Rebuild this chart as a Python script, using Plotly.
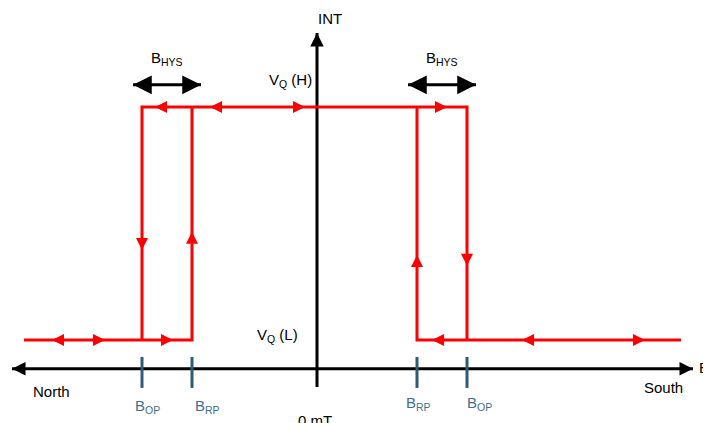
import plotly.graph_objects as go

# campo magnético (mT) dos pontos de comutação
B_OP_N, B_RP_N = -35, -25
B_RP_S, B_OP_S = 20, 30
B_START, B_END = -58.6, 72.8      # extremos da curva vermelha
V_LOW, V_HIGH = 0, 1              # níveis de saída

# eixos do diagrama
AXIS_Y = -0.124
AXIS_X_MIN, AXIS_X_MAX = -61, 75.2
INT_MIN, INT_MAX = -0.202, 1.318
TICK_LO, TICK_HI = -0.206, -0.073
HYS_Y = 1.095
HYS_PAD = 1.8

# setas sobre a curva (posição da ponta, direção)
arrows_high_x = [-32.4, -21.4, -2.4, 26]
arrows_high_dir = [-1, -1, 1, 1]
arrows_low_x = [-53, -42.4, -28.8, 23, 41, 65.6]
arrows_low_dir = [-1, 1, 1, -1, -1, 1]
arrows_vert_x = [B_OP_N, B_RP_N, B_RP_S, B_OP_S]
arrows_vert_y = [0.386, 0.464, 0.365, 0.318]
arrows_vert_dir = [-1, 1, 1, -1]

RED = "#ff0000"
TEAL = "#2e5c75"
TEAL_TXT = "#3f6f8b"
FONT = "Liberation Sans, Arial, sans-serif"

fig = go.Figure()

def line(xs, ys, color, width=3):
    fig.add_trace(go.Scatter(x=xs, y=ys, mode="lines", hoverinfo="skip",
                             line=dict(color=color, width=width)))

# eixos
line([AXIS_X_MIN, AXIS_X_MAX], [AXIS_Y, AXIS_Y], "black")
line([0, 0], [INT_MIN, INT_MAX], "black")

# marcas de B_OP / B_RP
for b in [B_OP_N, B_RP_N, B_RP_S, B_OP_S]:
    line([b, b], [TICK_LO, TICK_HI], TEAL)

# curva de histerese
line([B_START, B_RP_N, B_RP_N], [V_LOW, V_LOW, V_HIGH], RED)
line([B_OP_N, B_OP_N, B_OP_S, B_OP_S], [V_LOW, V_HIGH, V_HIGH, V_LOW], RED)
line([B_RP_S, B_RP_S, B_END], [V_HIGH, V_LOW, V_LOW], RED)

# B_HYS
line([B_OP_N - HYS_PAD, B_RP_N + HYS_PAD], [HYS_Y, HYS_Y], "black")
line([B_RP_S - HYS_PAD, B_OP_S + HYS_PAD], [HYS_Y, HYS_Y], "black")


def head(x, y, dx, dy, color, size):
    fig.add_annotation(x=x, y=y, ax=x - dx, ay=y - dy, axref="x", ayref="y",
                       xref="x", yref="y", text="", showarrow=True,
                       arrowhead=2, arrowwidth=3, arrowsize=size,
                       arrowcolor=color, standoff=0, borderpad=0)


for x, d in zip(arrows_high_x, arrows_high_dir):
    head(x, V_HIGH, 2 * d, 0, RED, 0.8)
for x, d in zip(arrows_low_x, arrows_low_dir):
    head(x, V_LOW, 2 * d, 0, RED, 0.8)
for x, y, d in zip(arrows_vert_x, arrows_vert_y, arrows_vert_dir):
    head(x, y, 0, 0.043 * d, RED, 0.8)

head(AXIS_X_MIN, AXIS_Y, -2, 0, "black", 0.9)
head(AXIS_X_MAX, AXIS_Y, 2, 0, "black", 0.9)
head(0, INT_MAX, 0, 0.043, "black", 0.9)

for a, b in [(B_OP_N - HYS_PAD, B_RP_N + HYS_PAD), (B_RP_S - HYS_PAD, B_OP_S + HYS_PAD)]:
    head(a, HYS_Y, -2, 0, "black", 1.25)
    head(b, HYS_Y, 2, 0, "black", 1.25)


def label(x, y, txt, color="black", xanchor="center", yanchor="middle", size=15):
    fig.add_annotation(x=x, y=y, xref="x", yref="y", text=txt, showarrow=False,
                       xanchor=xanchor, yanchor=yanchor,
                       font=dict(family=FONT, size=size, color=color))


label(2.6, 1.382, "INT")
label(-0.6, 1.112, "V<sub>Q</sub> (H)", xanchor="right")
label(-3.4, 0.017, "V<sub>Q</sub> (L)", xanchor="right")
label((B_OP_N + B_RP_N) / 2, 1.208, "B<sub>HYS</sub>")
label((B_RP_S + B_OP_S) / 2, 1.208, "B<sub>HYS</sub>")
label(-53.2, -0.223, "North")
label(69.2, -0.206, "South")
label(76.0, -0.12, "B", xanchor="left")
label(-0.4, -0.3, "0 mT", yanchor="top")
label(B_OP_N + 1, -0.287, "B<sub>OP</sub>", TEAL_TXT)
label(B_RP_N + 3, -0.287, "B<sub>RP</sub>", TEAL_TXT)
label(B_RP_S + 0.2, -0.275, "B<sub>RP</sub>", TEAL_TXT)
label(B_OP_S + 2.4, -0.275, "B<sub>OP</sub>", TEAL_TXT)

# a página desloca a figura 8 px (margem do body); o intervalo compensa
fig.update_layout(
    width=711, height=423,
    margin=dict(l=0, r=0, t=0, b=0),
    paper_bgcolor="white", plot_bgcolor="white",
    showlegend=False,
    xaxis=dict(range=[-61.8, 80.4], visible=False, fixedrange=True),
    yaxis=dict(range=[-0.391, 1.425], visible=False, fixedrange=True),
)

fig.write_html("out.html")
